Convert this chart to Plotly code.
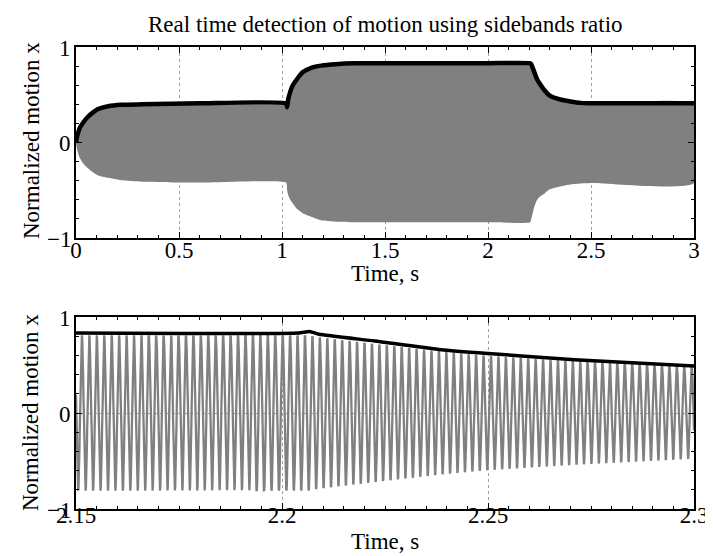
import numpy as np
import plotly.graph_objects as go

# ---------------- data ----------------
# Top panel: time knots (s)
top_t = [0, 0.005, 0.018, 0.035, 0.058, 0.08, 0.107, 0.156, 0.22, 0.32, 0.6, 1.02,
         1.025, 1.03, 1.04, 1.05, 1.075, 1.1, 1.145, 1.19, 1.26, 1.35, 1.45, 2.0,
         2.205, 2.21, 2.2225, 2.2386, 2.25, 2.271, 2.3, 2.35, 2.4, 2.45, 2.51, 3.0]
# detected motion (black line)
top_detect = [0, 0.06, 0.15, 0.21, 0.27, 0.31, 0.35, 0.38, 0.395, 0.40, 0.41, 0.41,
              0.37, 0.45, 0.53, 0.59, 0.67, 0.735, 0.785, 0.805, 0.82, 0.83, 0.83, 0.83,
              0.83, 0.82, 0.75, 0.66, 0.62, 0.555, 0.49, 0.45, 0.43, 0.415, 0.41, 0.41]
# upper / lower extent of the oscillating motion (grey band)
top_motion_hi = [0, 0.06, 0.15, 0.21, 0.27, 0.31, 0.35, 0.38, 0.395, 0.40, 0.40, 0.40,
                 0.40, 0.44, 0.52, 0.58, 0.66, 0.725, 0.775, 0.80, 0.815, 0.82, 0.82, 0.82,
                 0.82, 0.81, 0.74, 0.65, 0.61, 0.545, 0.48, 0.44, 0.42, 0.405, 0.40, 0.40]
top_motion_lo = [0, -0.07, -0.16, -0.22, -0.27, -0.31, -0.345, -0.37, -0.395, -0.41, -0.42, -0.42,
                 -0.50, -0.55, -0.60, -0.63, -0.70, -0.74, -0.78, -0.815, -0.83, -0.835, -0.835, -0.835,
                 -0.835, -0.80, -0.69, -0.60, -0.57, -0.54, -0.49, -0.46, -0.44, -0.43, -0.425, -0.425]

# Bottom panel (zoom 2.15 - 2.3 s)
bot_line_t = [2.15, 2.204, 2.2067, 2.209, 2.2225, 2.2386, 2.25, 2.271, 2.3]
bot_line_v = [0.833, 0.833, 0.85, 0.82, 0.75, 0.66, 0.62, 0.555, 0.49]
bot_amp_t = [2.15, 2.2065, 2.209, 2.2225, 2.2386, 2.25, 2.271, 2.3]
bot_amp_v = [0.81, 0.81, 0.79, 0.72, 0.64, 0.595, 0.54, 0.48]
carrier_hz = 554.0          # read from peak spacing (~7.4 px per cycle)
carrier_peak_t = 2.2507     # time of one observed peak

top_xticks = [0, 0.5, 1, 1.5, 2, 2.5, 3]
top_xlabels = ["0", "0.5", "1", "1.5", "2", "2.5", "3"]
bot_xticks = [2.15, 2.2, 2.25, 2.3]
bot_xlabels = ["2.15", "2.2", "2.25", "2.3"]
yticks = [-1, 0, 1]
ylabels = ["\u22121", "0", "1"]

title_text = "Real time detection of motion using sidebands ratio"
xlabel = "Time, s"
ylabel = "Normalized motion x"

# ---------------- figure ----------------
W, H = 713, 556
ML, MR, MT, MB = 68, 27, 39, 55
ph = H - MT - MB
top_dom = [(H - MB - 230) / ph, 1.0]
bot_dom = [0.0, (H - MB - 309) / ph]

FONT = "Liberation Serif, Times New Roman, serif"
GREY = "#808080"

fig = go.Figure()

# grey band (top)
band_x = list(top_t) + list(top_t[::-1])
band_y = list(top_motion_hi) + list(top_motion_lo[::-1])
fig.add_trace(go.Scatter(x=band_x, y=band_y, fill="toself", fillcolor=GREY,
                         mode="lines", line=dict(width=0, color=GREY, shape="spline", smoothing=0.5),
                         xaxis="x", yaxis="y", hoverinfo="skip", showlegend=False))
fig.add_trace(go.Scatter(x=top_t, y=top_detect, mode="lines",
                         line=dict(color="black", width=4.5, shape="spline", smoothing=0.5),
                         xaxis="x", yaxis="y", showlegend=False))

# bottom oscillation
n = int((bot_amp_t[-1] - bot_amp_t[0]) * carrier_hz * 24)
tt = np.linspace(bot_amp_t[0], bot_amp_t[-1], n)
amp = np.interp(tt, bot_amp_t, bot_amp_v)
osc = amp * np.cos(2 * np.pi * carrier_hz * (tt - carrier_peak_t))
fig.add_trace(go.Scatter(x=tt, y=osc, mode="lines", line=dict(color=GREY, width=2.3),
                         xaxis="x2", yaxis="y2", showlegend=False))
fig.add_trace(go.Scatter(x=bot_line_t, y=bot_line_v, mode="lines",
                         line=dict(color="black", width=3.5, shape="spline", smoothing=0.5),
                         xaxis="x2", yaxis="y2", showlegend=False))

TICKFONT = dict(family=FONT, size=23, color="black")
axis_common = dict(showline=True, linecolor="black", linewidth=2, mirror="allticks",
                   ticks="inside", ticklen=6, tickwidth=1, tickcolor="black",
                   zeroline=False, showgrid=True, gridcolor="#a0a0a0", gridwidth=1,
                   griddash="dot", tickfont=TICKFONT)

fig.update_layout(
    width=W, height=H, margin=dict(l=ML, r=MR, t=MT, b=MB),
    paper_bgcolor="white", plot_bgcolor="white", showlegend=False,
    xaxis=dict(domain=[0, 1], range=[0, 3], anchor="y", tickmode="array",
               tickvals=top_xticks, ticktext=top_xlabels, ticklabelstandoff=-10,
               minor=dict(ticks="inside", ticklen=3, dtick=0.1, tick0=0, showgrid=False,
                          tickcolor="black"),
               **axis_common),
    yaxis=dict(domain=top_dom, range=[-1, 1], anchor="x", tickmode="array",
               tickvals=yticks, showticklabels=False,
               minor=dict(ticks="inside", ticklen=3, dtick=0.2, tick0=0, showgrid=False,
                          tickcolor="black"),
               **axis_common),
    xaxis2=dict(domain=[0, 1], range=[2.15, 2.3], anchor="y2", tickmode="array",
                tickvals=bot_xticks, ticktext=bot_xlabels, ticklabelstandoff=-16,
                minor=dict(ticks="inside", ticklen=3, dtick=0.005, tick0=2.15, showgrid=False,
                           tickcolor="black"),
                **axis_common),
    yaxis2=dict(domain=bot_dom, range=[-1, 1], anchor="x2", tickmode="array",
                tickvals=yticks, showticklabels=False,
                minor=dict(ticks="inside", ticklen=3, dtick=0.2, tick0=0, showgrid=False,
                           tickcolor="black"),
                **axis_common),
)

def py(pix):
    return (H - MB - pix) / ph

def px(pix):
    return (pix - ML) / (W - ML - MR)

# y tick labels, placed on the y scales
for yref in ("y", "y2"):
    for v, lab in zip(yticks, ylabels):
        fig.add_annotation(text=lab, xref="paper", yref=yref, x=px(65), y=v,
                           showarrow=False, font=TICKFONT, xanchor="right",
                           yanchor="middle", yshift=-1)

lab_font = dict(family=FONT, size=23, color="black")
fig.add_annotation(text=title_text, xref="paper", yref="paper", x=0.5, y=py(16),
                   showarrow=False, font=lab_font, xanchor="center", yanchor="middle")
fig.add_annotation(text=xlabel, xref="paper", yref="paper", x=0.5, y=py(265),
                   showarrow=False, font=lab_font, xanchor="center", yanchor="middle")
fig.add_annotation(text=xlabel, xref="paper", yref="paper", x=0.5, y=py(533),
                   showarrow=False, font=lab_font, xanchor="center", yanchor="middle")
fig.add_annotation(text=ylabel, xref="paper", yref="paper", x=px(23), y=py(133),
                   showarrow=False, font=lab_font, textangle=-90,
                   xanchor="center", yanchor="middle")
fig.add_annotation(text=ylabel, xref="paper", yref="paper", x=px(23), y=py(405),
                   showarrow=False, font=lab_font, textangle=-90,
                   xanchor="center", yanchor="middle")

fig.write_html("out.html")
